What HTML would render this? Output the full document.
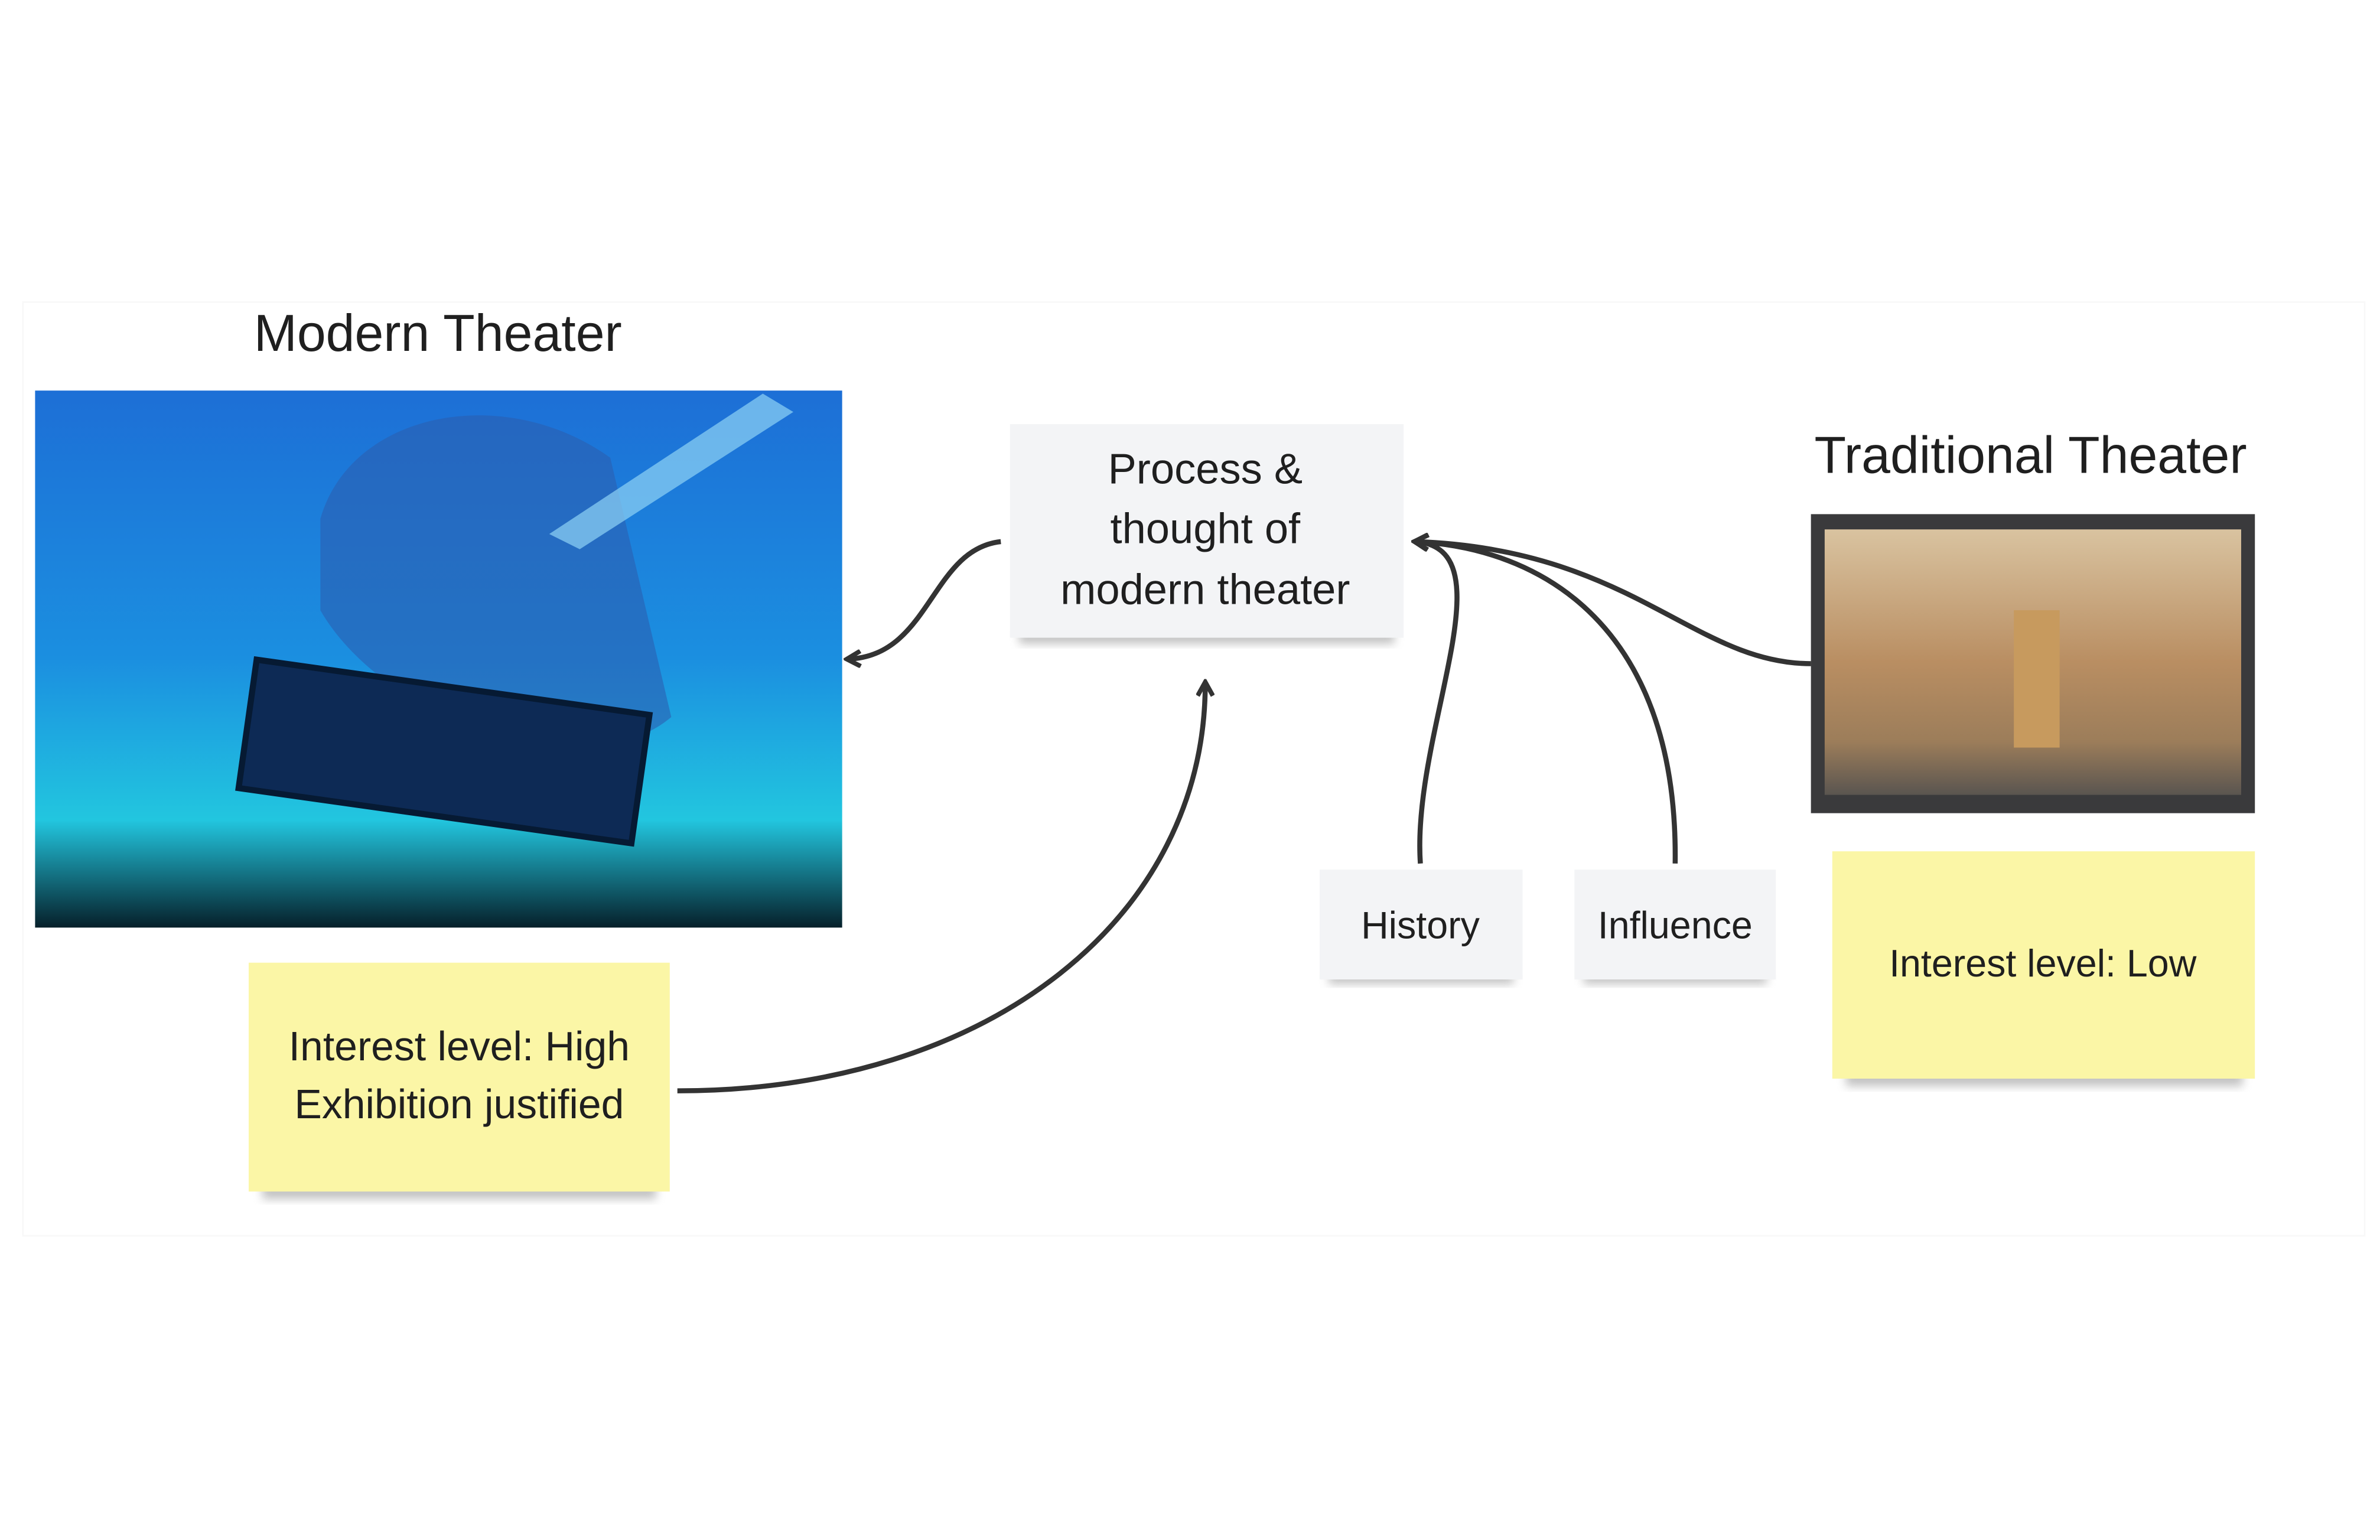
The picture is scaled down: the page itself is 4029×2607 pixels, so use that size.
<!DOCTYPE html>
<html><head><meta charset="utf-8"><style>
html,body{margin:0;padding:0;background:#fff;}
svg{display:block;}
text{font-family:"Liberation Sans",sans-serif;fill:#1f1f1f;}
</style></head><body>
<svg width="4029" height="2607" viewBox="0 0 1560 1009.4" xmlns="http://www.w3.org/2000/svg">
<defs>
<linearGradient id="blue" x1="0" y1="0" x2="0" y2="1">
<stop offset="0" stop-color="#1d6fd6"/><stop offset="0.5" stop-color="#1b8fe0"/><stop offset="0.8" stop-color="#22c6df"/><stop offset="1" stop-color="#06202a"/>
</linearGradient>
<linearGradient id="trad" x1="0" y1="0" x2="0" y2="1">
<stop offset="0" stop-color="#d9c3a0"/><stop offset="0.5" stop-color="#b98e62"/><stop offset="0.8" stop-color="#9c7d5a"/><stop offset="1" stop-color="#5a5550"/>
</linearGradient>
<filter id="sh" x="-10%" y="-10%" width="120%" height="140%"><feGaussianBlur stdDeviation="3"/></filter>
<marker id="ar" markerWidth="12" markerHeight="12" refX="9" refY="6" orient="auto" markerUnits="userSpaceOnUse">
<path d="M1,1 L10,6 L1,11" fill="none" stroke="#333" stroke-width="3"/></marker>
</defs>
<rect x="15" y="198" width="1535" height="612" fill="none" stroke="#f8f8f8" stroke-width="1"/>
<text x="287" y="230" font-size="34" text-anchor="middle">Modern Theater</text>
<rect x="23" y="256" width="529" height="352" fill="url(#blue)"/>
<path d="M210,340 C230,270 330,250 400,300 L440,470 C380,520 250,470 210,400Z" fill="#2b5fb0" opacity="0.6"/>
<path d="M360,350 L500,258 L520,270 L380,360Z" fill="#8fd3f5" opacity="0.7"/>
<g transform="rotate(8 290 500)"><rect x="160" y="450" width="260" height="85" fill="#0d2a55" stroke="#061a33" stroke-width="4"/></g>
<rect x="668" y="412" width="246" height="10" fill="#888" opacity="0.5" filter="url(#sh)"/>
<rect x="662" y="278" width="258" height="140" fill="#f3f4f6"/>
<text x="790" y="317" font-size="28" text-anchor="middle">Process &amp;</text>
<text x="790" y="356" font-size="28" text-anchor="middle">thought of</text>
<text x="790" y="396" font-size="28" text-anchor="middle">modern theater</text>
<text x="1331" y="310" font-size="34" text-anchor="middle">Traditional Theater</text>
<rect x="1187" y="337" width="291" height="196" fill="#3a3a3c"/>
<rect x="1196" y="347" width="273" height="174" fill="url(#trad)"/>
<rect x="1320" y="400" width="30" height="90" fill="#c79a5e"/>
<rect x="871" y="637" width="121" height="8" fill="#888" opacity="0.5" filter="url(#sh)"/>
<rect x="865" y="570" width="133" height="72" fill="#f3f4f6"/>
<text x="931" y="615" font-size="25" text-anchor="middle">History</text>
<rect x="1038" y="637" width="120" height="8" fill="#888" opacity="0.5" filter="url(#sh)"/>
<rect x="1032" y="570" width="132" height="72" fill="#f3f4f6"/>
<text x="1098" y="615" font-size="25" text-anchor="middle">Influence</text>
<rect x="1210" y="700" width="260" height="12" fill="#888" opacity="0.5" filter="url(#sh)"/>
<rect x="1201" y="558" width="277" height="149" fill="#fbf6a6"/>
<text x="1339" y="640" font-size="25" text-anchor="middle">Interest level: Low</text>
<rect x="172" y="774" width="258" height="12" fill="#888" opacity="0.5" filter="url(#sh)"/>
<rect x="163" y="631" width="276" height="150" fill="#fbf6a6"/>
<text x="301" y="695" font-size="27" text-anchor="middle">Interest level: High</text>
<text x="301" y="733" font-size="27" text-anchor="middle">Exhibition justified</text>
<g fill="none" stroke="#333" stroke-width="3.3">
<path d="M656,355 C610,360 610,430 556,432" marker-end="url(#ar)"/>
<path d="M444,715 C650,715 790,600 790,448" marker-end="url(#ar)"/>
<path d="M931,566 C925,480 990,360 928,355" marker-end="url(#ar)"/>
<path d="M1098,566 C1100,420 1020,360 928,355" marker-end="url(#ar)"/>
<path d="M1187,435 C1110,435 1070,360 928,355" marker-end="url(#ar)"/>
</g>
</svg>
</body></html>
